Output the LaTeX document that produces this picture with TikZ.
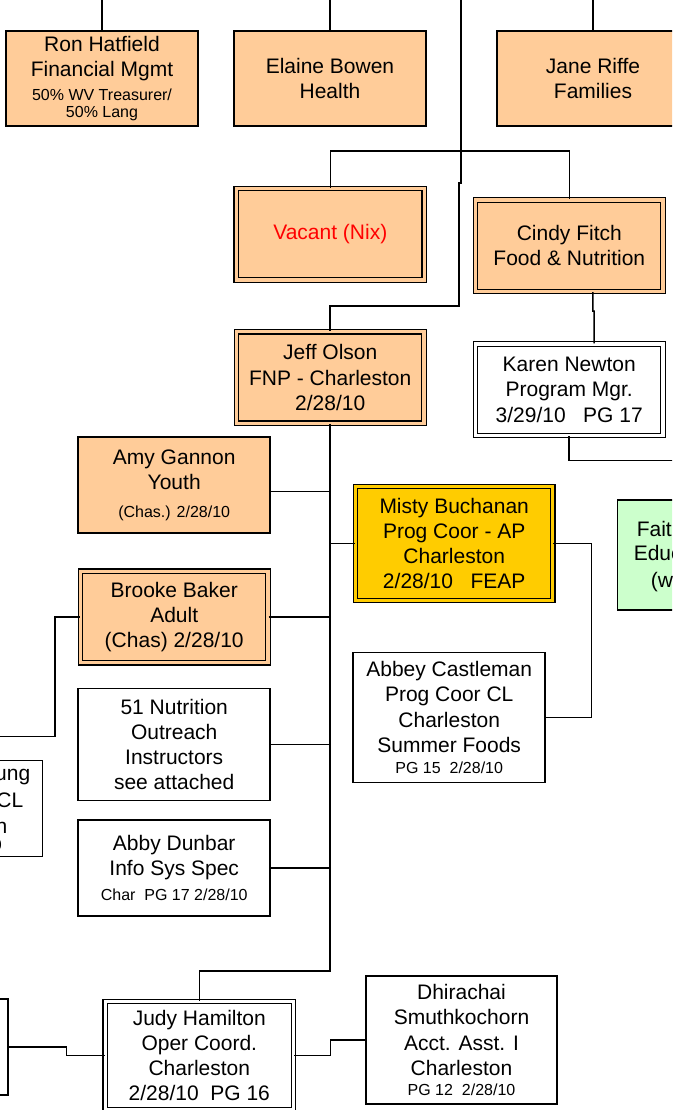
\documentclass[tikz,border=0pt]{standalone}
\usepackage{fontspec}
\setmainfont{Liberation Sans}
\usetikzlibrary{positioning,calc}
\definecolor{peach}{HTML}{FFCC99}
\definecolor{gold}{HTML}{FFCC00}
\definecolor{mint}{HTML}{CCFFCC}
\newcommand{\sm}{\fontsize{16}{18}\selectfont}

\begin{document}
\begin{tikzpicture}[x=1pt,y=-1pt,line width=1.5pt,align=center,font=\fontsize{21}{25.2}\selectfont,
	box/.style={draw,fill=#1,inner sep=0pt,minimum width=192pt,minimum height=96pt},
	box/.default=white,
	dbox/.style={draw,fill=#1,double=#1,double distance=3.3pt,line width=1.2pt,inner sep=0pt,minimum width=187.5pt,minimum height=91.5pt},
	dbox/.default=white,
	frag/.style={inner sep=0pt}]
	\useasboundingbox (0,0) rectangle (672,1110);
	\clip (0,0) rectangle (672,1110);
	% top row
	\node[box=peach,minimum height=95pt] (ron) at (102,78.5) {Ron Hatfield\\Financial Mgmt\\[-2pt]\sm 50\% WV Treasurer/\\[-8pt]\sm 50\% Lang};
	\node[box=peach,minimum height=95pt] (elaine) at (330,78.5) {Elaine Bowen\\Health};
	\node[box=peach,minimum height=95pt] (jane) at (593,78.5) {Jane Riffe\\Families};
	\coordinate (ronTop) at (102,-5);
	\coordinate (elaineTop) at (330,-5);
	\coordinate (janeTop) at (593,-5);
	\coordinate (trunkTop) at (461,-5);
	\draw (ronTop) -- (ron.north);
	\draw (elaineTop) -- (elaine.north);
	\draw (janeTop) -- (jane.north);
	
	% food & nutrition
	\node[dbox=peach,minimum width=188pt] (vacant) at (330.3,234.3) {\color{red}Vacant (Nix)};
	\node[dbox=peach] (cindy) at (569.3,245.7) {Cindy Fitch\\Food \& Nutrition};
	\coordinate (fnbus) at (0,151);
	\draw (vacant.north) |- (fnbus -| cindy.north) -- (cindy.north);
	\node[dbox] (karen) at (569.2,389.7) {Karen Newton\\Program Mgr.\\3/29/10\ \ \ PG 17};
	\draw ([xshift=23.5pt]cindy.south) -- ++(0,19) -- ++(1.3,0) -- ([xshift=25pt]karen.north);
	\coordinate (karenOut) at (690,460.3);
	\draw (karen.south) |- (karenOut);
	
	\node[dbox=peach] (jeff) at (330.2,377.5) {Jeff Olson\\FNP - Charleston\\2/28/10};
	\draw (trunkTop) -- (461,183) -- (459,183) |- (jeff.north |- 0,306) -- (jeff.north);
	
	% staff under Jeff
	\node[box=peach] (amy) at (174.2,485.2) {Amy Gannon\\Youth\\[2pt]\sm (Chas.) 2/28/10};
	\node[dbox=gold,minimum width=197.2pt,minimum height=113.9pt] (misty) at (454.2,543.5) {Misty Buchanan\\Prog Coor - AP\\Charleston\\2/28/10\ \ \ FEAP};
	\node[box=mint,minimum height=110pt] (faith) at (713.3,555) {};
	\node[frag,anchor=base west] (faithA) at (636,536.5) {Fait};
	\node[frag,anchor=base west] (faithB) at (633,560.5) {Educ};
	\node[frag,anchor=base west] (faithC) at (650,587.5) {(w};
	\node[dbox=peach] (brooke) at (174.2,617) {Brooke Baker\\Adult\\(Chas) 2/28/10};
	\node[box,minimum height=112.4pt] (nutri) at (174.2,744.5) {51 Nutrition\\Outreach\\Instructors\\see attached};
	\node[box,minimum height=130.4pt] (castle) at (449.2,717.5) {Abbey Castleman\\Prog Coor CL\\Charleston\\Summer Foods\\[-4pt]\sm PG 15\ \ 2/28/10};
	\node[box] (abby) at (174.2,867.9) {Abby Dunbar\\Info Sys Spec\\[-1pt]\sm Char\ \ PG 17 2/28/10};
	\node[box] (yng) at (-53.3,808.7) {};
	\node[frag,anchor=base east] (yngA) at (31,780.5) {ung};
	\node[frag,anchor=base east] (yngB) at (24,807.5) {CL};
	\node[frag,anchor=base east] (yngC) at (8,833.5) {n};
	\node[frag,anchor=base east,font=\sm] (yngD) at (2.5,850.5) {0};
	
	\draw ([yshift=-6.5pt]amy.east) -- ([yshift=-6.5pt]amy.east -| jeff.south);
	\draw (misty.west) -- (misty.west -| jeff.south);
	\draw (brooke.east) -- (brooke.east -| jeff.south);
	\draw (nutri.east) -- (nutri.east -| jeff.south);
	\draw (abby.east) -- (abby.east -| jeff.south);
	\draw (misty.east) -- ++(38,0) |- (castle.east);
	\coordinate (brookeOut) at (-10,736.7);
	\draw (brooke.west) -- ++(-24.8,0) |- (brookeOut);
	
	% operations
	\node[dbox,minimum width=188.3pt,minimum height=107.9pt] (judy) at (199.3,1055.5) {Judy Hamilton\\Oper Coord.\\Charleston\\2/28/10\ \ PG 16};
	\node[box,minimum width=191pt,minimum height=128pt] (dhir) at (461.5,1040) {Dhirachai\\Smuthkochorn\\Acct. Asst. I\\Charleston\\[-5pt]\sm PG 12\ \ 2/28/10};
	\node[box] (opsL) at (-88,1047) {};
	\coordinate (trunkEnd) at (0,971);
	\draw (jeff.south) |- (trunkEnd -| judy.north) -- (judy.north);
	\draw (judy.west) -- ++(-38,0) |- (opsL.east);
	\draw (judy.east) -- ++(36.6,0) |- (dhir.west);
\end{tikzpicture}
\end{document}
